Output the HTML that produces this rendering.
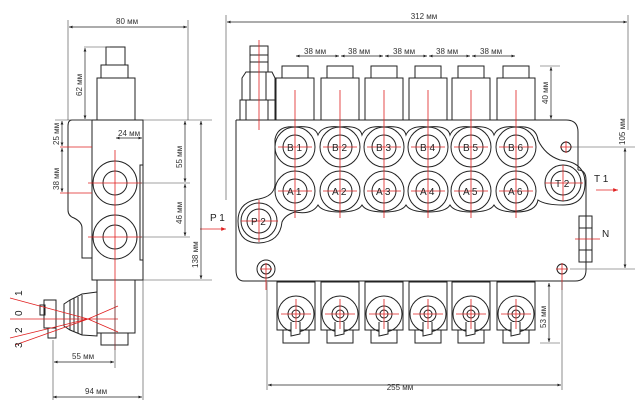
<!DOCTYPE html>
<html><head><style>body{margin:0;background:#fff}svg{display:block}text{font-family:"Liberation Sans",sans-serif}</style></head><body>
<svg width="640" height="408" viewBox="0 0 640 408" xmlns="http://www.w3.org/2000/svg">
<defs>
<marker id="a" viewBox="0 0 10 10" refX="10" refY="5" markerWidth="7" markerHeight="5" orient="auto-start-reverse"><path d="M0,1 L10,5 L0,9z" fill="#222"/></marker>
<marker id="r" viewBox="0 0 10 10" refX="10" refY="5" markerWidth="8" markerHeight="6" orient="auto"><path d="M0,1 L10,5 L0,9z" fill="#e02020"/></marker>
</defs>
<g fill="none" stroke="#222" stroke-width="1">
<!-- LEFT VIEW -->
<rect x="106" y="47" width="19" height="18"/>
<rect x="101" y="65" width="27" height="13"/>
<rect x="97" y="78" width="38" height="42"/>
<path d="M92,120 H143 V280 H92 Z"/>
<path d="M143,165 H140 V260 H143"/>
<path d="M92,120 H72 Q68,120 68,126 V210 Q68,216 74,218 Q82,222 82,228 V258 H92"/>
<circle cx="115" cy="183" r="22"/><circle cx="115" cy="183" r="12"/>
<circle cx="115" cy="237" r="22"/><circle cx="115" cy="237" r="12"/>
<rect x="97" y="280" width="38" height="53"/>
<rect x="101" y="333" width="27" height="12"/>
<path d="M97,292 L82,294 L70,300 L64,304 V326 L70,330 L82,335 L97,336 Z"/>
<path d="M70,300 V330 M74,298 V332 M78,297 V333 M82,295 V335"/>
<rect x="44" y="300" width="12" height="28"/><rect x="40" y="305" width="5" height="10"/><rect x="48" y="328" width="8" height="10"/>
<!-- MAIN BODY -->
<path d="M236,120 H566 Q578,120 578,132 V170 M578,170 Q586,170 586,180 V270 Q586,281 575,281 H244 Q236,281 236,270 V120"/>
<path d="M275,139 Q278,125 295,127 Q315,125 318,135 Q322,125 340,127 Q360,125 362,135 Q366,125 384,127 Q404,125 406,135 Q410,125 428,127 Q448,125 450,135 Q454,125 471,127 Q491,125 494,135 Q498,125 516,127 Q536,125 538,140 Q545,155 560,160 Q585,162 585,183 Q585,205 563,205 Q545,205 538,200 Q536,212 516,212 Q498,212 494,205 Q490,212 471,212 Q454,212 450,205 Q446,212 428,212 Q410,212 406,205 Q402,212 384,212 Q366,212 362,205 Q358,212 340,212 Q322,212 318,205 Q312,215 295,212 Q285,215 282,222 Q280,242 259,243 Q238,243 238,221 Q238,202 259,199 Q274,196 275,185 Z"/>
<g>
<circle cx="295" cy="147" r="20"/><circle cx="295" cy="147" r="12"/><circle cx="295" cy="191" r="20"/><circle cx="295" cy="191" r="12"/>
<circle cx="340" cy="147" r="20"/><circle cx="340" cy="147" r="12"/><circle cx="340" cy="191" r="20"/><circle cx="340" cy="191" r="12"/>
<circle cx="384" cy="147" r="20"/><circle cx="384" cy="147" r="12"/><circle cx="384" cy="191" r="20"/><circle cx="384" cy="191" r="12"/>
<circle cx="428" cy="147" r="20"/><circle cx="428" cy="147" r="12"/><circle cx="428" cy="191" r="20"/><circle cx="428" cy="191" r="12"/>
<circle cx="471" cy="147" r="20"/><circle cx="471" cy="147" r="12"/><circle cx="471" cy="191" r="20"/><circle cx="471" cy="191" r="12"/>
<circle cx="516" cy="147" r="20"/><circle cx="516" cy="147" r="12"/><circle cx="516" cy="191" r="20"/><circle cx="516" cy="191" r="12"/>
<circle cx="563" cy="183" r="18"/><circle cx="563" cy="183" r="12"/>
<circle cx="259" cy="221" r="18"/><circle cx="259" cy="221" r="12"/>
<circle cx="566" cy="147" r="5"/><circle cx="266" cy="269" r="9"/><circle cx="266" cy="269" r="5"/><circle cx="562" cy="269" r="5"/>
</g>
<rect x="579" y="216" width="13" height="46"/><path d="M579,228 H592 M579,250 H592"/>
<g id="tc"><rect x="276" y="78" width="38" height="42"/><rect x="282" y="66" width="26" height="12"/></g>
<use href="#tc" x="45"/><use href="#tc" x="89"/><use href="#tc" x="133"/><use href="#tc" x="176"/><use href="#tc" x="221"/>
<rect x="240" y="100" width="35" height="20"/><rect x="246" y="100" width="22" height="20"/>
<path d="M242,100 V78 L246,72 H272 L275,78 V100 M250,72 V100 M266,72 V100"/>
<rect x="250" y="46" width="18" height="26"/><path d="M250,55 H268 M250,62 H268"/>
<g id="bh"><rect x="277" y="282" width="38" height="48"/><rect x="283" y="330" width="26" height="13"/>
<circle cx="296" cy="314" r="18"/><circle cx="296" cy="314" r="8"/><circle cx="296" cy="314" r="4"/>
<path d="M291,322 V336 L300,334 V322" fill="#fff"/></g>
<use href="#bh" x="44"/><use href="#bh" x="88"/><use href="#bh" x="132"/><use href="#bh" x="175"/><use href="#bh" x="220"/>
</g>
<g stroke="#e02020" stroke-width="0.8" fill="none">
<path d="M115,150 V350 M88,183 H142 M88,237 H142 M60,147 H92 M60,193 H92"/>
<path d="M10,298 L88,319 M10,319 H118 M10,338 L88,319 M15,345 L88,319 M88,319 L118,306 M88,319 L118,332"/>
<path d="M295,90 V218 M340,90 V218 M384,90 V218 M428,90 V218 M471,90 V218 M516,90 V218 M259,40 V130"/>
<path d="M278,147 H312 M278,191 H312 M323,147 H357 M323,191 H357 M367,147 H401 M367,191 H401 M411,147 H445 M411,191 H445 M454,147 H488 M454,191 H488 M499,147 H533 M499,191 H533"/>
<path d="M259,200 V242 M241,221 H278 M545,183 H583 M563,165 V201 M560,147 H572 M566,141 V153 M260,269 H272 M266,263 V290 M556,269 H568 M562,263 V290 M575,239 H600"/>
<path d="M281,314 H311 M296,299 V329 M325,314 H355 M340,299 V329 M369,314 H399 M384,299 V329 M413,314 H443 M428,299 V329 M456,314 H486 M471,299 V329 M501,314 H531 M516,299 V329"/>
<path d="M200,229 H226" marker-end="url(#r)"/><path d="M596,190 H618" marker-end="url(#r)"/>
</g>
<g stroke="#444" stroke-width="0.6" fill="none">
<path d="M68,20 V120 M188,20 V120 M143,120 H212 M140,183 H190 M140,237 H190 M143,280 H212 M84,47 H110 M55,120 H92 M53,340 V400 M143,280 V400 M115,300 V368 M143,130 V140"/>
<path d="M226,15 V200 M628,15 V130 M540,66 H560 M570,147 H635 M570,269 H635 M267,282 V390 M562,282 V390 M540,343 H560"/>
</g>
<g stroke="#222" stroke-width="0.7" fill="none" marker-start="url(#a)" marker-end="url(#a)">
<path d="M69,27 H187"/><path d="M85,48 V119"/><path d="M185,121 V182"/><path d="M185,184 V236"/><path d="M201,121 V279"/>
<path d="M62,121 V146"/><path d="M62,148 V192"/><path d="M116,138 H142"/><path d="M54,362 H114"/><path d="M53,397 H142"/>
<path d="M227,22 H627"/><path d="M296,56 H339"/><path d="M341,56 H383"/><path d="M385,56 H427"/><path d="M429,56 H470"/><path d="M472,56 H515"/>
<path d="M551,67 V119"/><path d="M625,148 V268"/><path d="M549,283 V342"/><path d="M268,385 H561"/>
</g>
<g font-size="8" fill="#333">
<text x="116" y="24">80 мм</text><text x="424" y="19" text-anchor="middle">312 мм</text>
<text x="118" y="136">24 мм</text><text x="400" y="390" text-anchor="middle">255 мм</text>
<text x="72" y="359">55 мм</text><text x="85" y="394">94 мм</text>
<text x="304" y="54">38 мм</text><text x="348" y="54">38 мм</text><text x="393" y="54">38 мм</text><text x="436" y="54">38 мм</text><text x="480" y="54">38 мм</text>
<text transform="translate(82,96) rotate(-90)">62 мм</text>
<text transform="translate(59,145) rotate(-90)">25 мм</text>
<text transform="translate(59,190) rotate(-90)">38 мм</text>
<text transform="translate(182,168) rotate(-90)">55 мм</text>
<text transform="translate(182,224) rotate(-90)">46 мм</text>
<text transform="translate(198,268) rotate(-90)">138 мм</text>
<text transform="translate(548,104) rotate(-90)">40 мм</text>
<text transform="translate(625,145) rotate(-90)">105 мм</text>
<text transform="translate(546,328) rotate(-90)">53 мм</text>
</g>
<g font-size="10" fill="#222">
<text x="287" y="151">B 1</text><text x="332" y="151">B 2</text><text x="376" y="151">B 3</text><text x="420" y="151">B 4</text><text x="463" y="151">B 5</text><text x="508" y="151">B 6</text>
<text x="287" y="195">A 1</text><text x="332" y="195">A 2</text><text x="376" y="195">A 3</text><text x="420" y="195">A 4</text><text x="463" y="195">A 5</text><text x="508" y="195">A 6</text>
<text x="555" y="187">T 2</text><text x="251" y="225">P 2</text>
<text x="594" y="182">T 1</text><text x="210" y="221">P 1</text><text x="602" y="237">N</text>
<text transform="translate(22,296) rotate(-90)">1</text>
<text transform="translate(22,316) rotate(-90)">0</text>
<text transform="translate(22,333) rotate(-90)">2</text>
<text transform="translate(22,348) rotate(-90)">3</text>
</g>
</svg>
</body></html>
